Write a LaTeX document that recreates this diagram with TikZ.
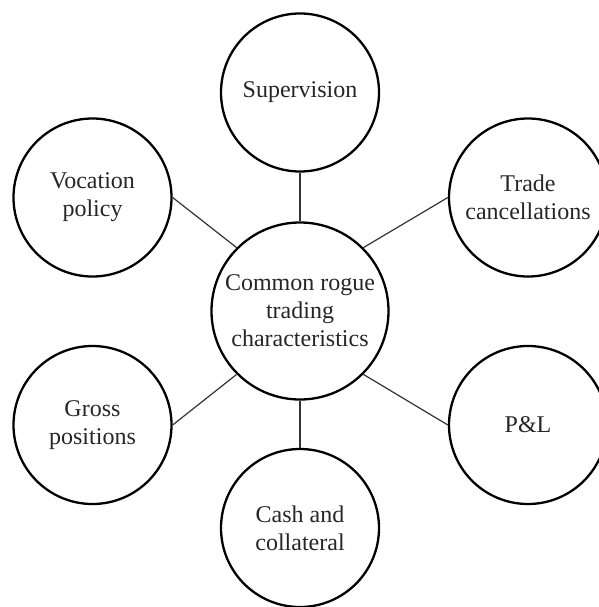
\documentclass[tikz,border=0pt]{standalone}
\usepackage{fontspec}
\setmainfont{Liberation Serif}
\begin{document}
\begin{tikzpicture}[x=1pt,y=-1pt,
  bub/.style={circle, draw=black, line width=2.3pt, minimum size=158pt, inner sep=0pt,
              align=center, font=\fontsize{24}{28}\selectfont, text=black!85},
  link/.style={line width=1.2pt, draw=black!80}]
\useasboundingbox (0,0) rectangle (598,607);
\node[bub, minimum size=177pt] (c) at (300,311) {Common rogue\\trading\\characteristics};
\node[bub] (sup) at (300,92.5) {Supervision};
\node[bub] (voc) at (92.5,197.5) {Vocation\\policy};
\node[bub] (tra) at (528,197.5) {Trade\\cancellations};
\node[bub] (gro) at (92.5,425) {Gross\\positions};
\node[bub] (pl) at (528,425) {P\&L};
\node[bub] (cash) at (300,528) {Cash and\\collateral};
\draw[link, line width=1.6pt] (sup.south) -- (c.north);
\draw[link, line width=1.6pt] (cash.north) -- (c.south);
\draw[link] (voc.east) -- (c.135);
\draw[link] (tra.west) -- (c.45);
\draw[link] (gro.east) -- (c.225);
\draw[link] (pl.west) -- (c.315);
\end{tikzpicture}
\end{document}
